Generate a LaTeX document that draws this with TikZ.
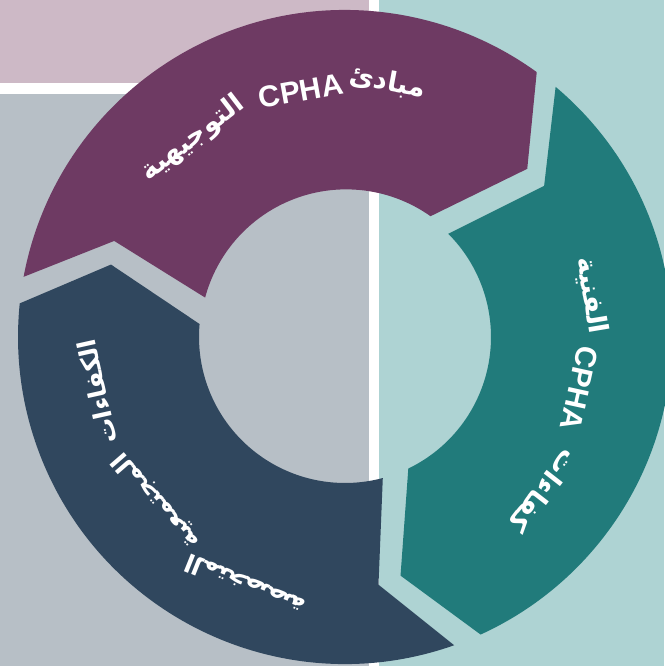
\documentclass[tikz,border=0pt]{standalone}
\usepackage{fontspec}
\setmainfont{Liberation Sans}
\newfontfamily\arabicfont[Script=Arabic]{DejaVu Sans}
\TeXXeTstate=1
\definecolor{bgGrey}{HTML}{B7BFC6}
\definecolor{bgLilac}{HTML}{CDB9C6}
\definecolor{bgTeal}{HTML}{AED3D3}
\definecolor{segPurple}{HTML}{6E3A63}
\definecolor{segTeal}{HTML}{217B7B}
\definecolor{segNavy}{HTML}{30475E}
\tikzset{
  artxt/.style={text=white, inner sep=0pt, font=\arabicfont\bfseries\fontsize{27}{30}\selectfont},
  arlow/.style={text=white, inner sep=0pt, font=\arabicfont\bfseries\fontsize{25}{30}\selectfont},
  latxt/.style={text=white, inner sep=0pt, font=\bfseries\fontsize{30}{34}\selectfont}
}
\begin{document}
\begin{tikzpicture}[x=1pt,y=1pt]
\useasboundingbox (0,0) rectangle (664,666);
% background panels
\fill[bgGrey] (0,0) rectangle (369,666);
\fill[bgLilac] (0,583) rectangle (369,666);
\fill[white] (0,572) rectangle (369,583);
\fill[white] (369,0) rectangle (379,666);
\fill[bgTeal] (379,0) rectangle (664,666);
\begin{scope}[shift={(345,329)}]
% purple segment
\fill[segPurple] (169.4:327pt) arc[start angle=169.4,end angle=54.1,radius=327pt]
  -- (42.7:248pt) -- (54.7:148pt) arc[start angle=54.7,end angle=165,radius=146pt]
  -- (157.4:250pt) -- cycle;
% teal segment
\fill[segTeal] (49.9:327pt) arc[start angle=49.9,end angle=-65.5,radius=327pt]
  -- (-76.9:245pt) -- (-64.3:146pt) arc[start angle=-64.3,end angle=45,radius=146pt]
  -- (37.2:250pt) -- cycle;
% navy segment
\fill[segNavy] (-70.5:327pt) arc[start angle=-70.5,end angle=-185.9,radius=327pt]
  -- (162.8:245pt) -- (174.9:146pt) arc[start angle=-185.1,end angle=-75,radius=146pt]
  -- (-82.3:250pt) -- cycle;
% purple labels
\node[artxt, rotate=-10.4] (p1) at (80.5:258pt) {\beginR مبادئ\endR};
\node[latxt, rotate=10.2] (p2) at (100.2:250pt) {CPHA};
\node[artxt, rotate=37.5] (p3) at (127.5:250pt) {\beginR التوجيهية\endR};
% teal labels
\node[artxt, rotate=-80.5] (t1) at (9.5:250pt) {\beginR الفنية\endR};
\node[latxt, rotate=-102.4] (t2) at (-12.4:240pt) {CPHA};
\node[artxt, rotate=-127.8] (t3) at (-37.8:252pt) {\beginR كفاءات\endR};
% navy labels
\node[arlow, rotate=-257.5] (n1) at (-167.5:254pt) {\beginR الكفاءات\endR};
\node[arlow, rotate=-229] (n2) at (-139:250pt) {\beginR المجتمعية\endR};
\node[arlow, rotate=-202] (n3) at (-112:268pt) {\beginR المتخصصة\endR};
\end{scope}
\end{tikzpicture}
\end{document}
